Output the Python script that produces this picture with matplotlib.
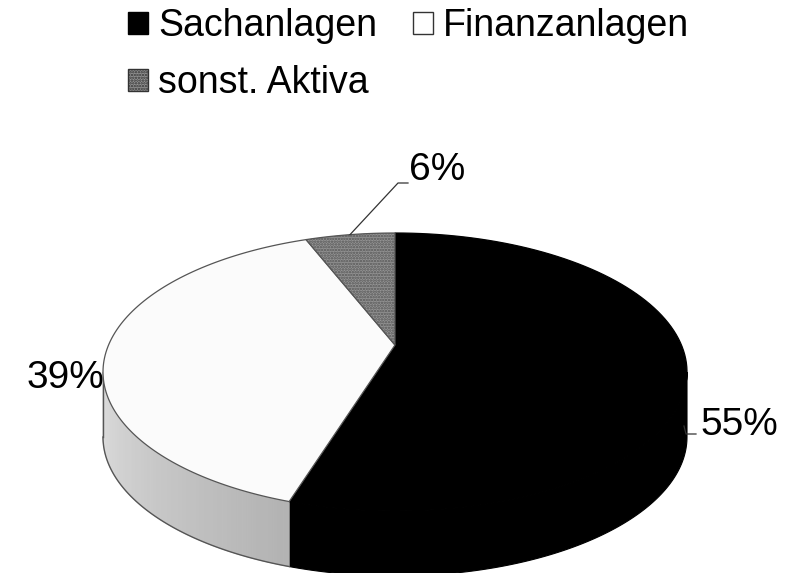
import numpy as np
import matplotlib
matplotlib.use('Agg')
import matplotlib.pyplot as plt
from matplotlib.patches import Polygon, Patch

# Daten
kategorien = ['Sachanlagen', 'Finanzanlagen', 'sonst. Aktiva']
anteile = [55, 39, 6]
beschriftungen = ['55%', '39%', '6%']

# Farben
farben_oben = ['#000000', '#fbfbfb', '#949494']
schraffur = [None, None, '......']
seite_hell = np.array([0.87, 0.87, 0.87])
seite_dunkel = np.array([0.69, 0.69, 0.69])
rand = '#555555'

plt.rcParams['font.family'] = ['Liberation Sans', 'DejaVu Sans']
plt.rcParams['hatch.linewidth'] = 1.2

fig = plt.figure(figsize=(7.94, 5.73), dpi=100)
ax = fig.add_axes([0, 0, 1, 1])
ax.set_xlim(0, 794)
ax.set_ylim(573, 0)
ax.axis('off')

# Geometrie der 3D-Torte (Pixel), Spitze liegt perspektivisch hoeher
cx, cy, rx, ry, tiefe = 395, 372, 292, 139, 65
spitze_y = 345
persp = 10.5  # Verzerrung: vorne breiter, hinten schmaler


def verzerrt(t):
    return t + persp * np.cos(np.radians(t))


def punkt(t, dy=0.0):
    t = np.radians(t)
    return cx + rx * np.cos(t), cy - ry * np.sin(t) + dy


def bogen(a, b, dy=0.0, n=120):
    ts = np.linspace(a, b, n)
    xs, ys = punkt(ts, dy)
    return list(zip(xs, ys))


# Winkel (im Uhrzeigersinn ab 90 Grad)
grenzen = []
start = 90.0
for v in anteile:
    ende = start - 360.0 * v / sum(anteile)
    grenzen.append((verzerrt(start), verzerrt(ende)))
    start = ende

# Seitenflaechen (nur vordere Haelfte sichtbar)
for i, (a, b) in enumerate(grenzen):
    for lo, hi in [(-180, 0), (-540, -360)]:
        s = max(b, lo)
        e = min(a, hi)
        if e <= s:
            continue
        if i == 0:
            oben = bogen(e, s)
            unten = bogen(s, e, tiefe)
            ax.add_patch(Polygon(oben + unten, closed=True, facecolor='black',
                                 edgecolor='black', lw=0.8, zorder=1))
        else:
            n_streifen = 60
            ts = np.linspace(s, e, n_streifen + 1)
            for k in range(n_streifen):
                f = (ts[k] - lo) / 72.0
                f = min(max(f, 0), 1)
                farbe = seite_hell + (seite_dunkel - seite_hell) * f
                poly = bogen(ts[k], ts[k + 1], 0, 6) + bogen(ts[k + 1], ts[k], tiefe, 6)
                ax.add_patch(Polygon(poly, closed=True, facecolor=farbe,
                                     edgecolor=farbe, lw=0.6, zorder=1))
            ax.plot(*zip(*bogen(s, e, tiefe)), color=rand, lw=1, zorder=2)
            x0, y0 = punkt(s)
            ax.plot([x0, x0], [y0, y0 + tiefe], color=rand, lw=1, zorder=2)

# Deckflaechen
for i, (a, b) in enumerate(grenzen):
    poly = [(cx, spitze_y)] + bogen(a, b)
    ax.add_patch(Polygon(poly, closed=True, facecolor=farben_oben[i],
                         edgecolor=rand if i > 0 else 'black', lw=0.9,
                         hatch=schraffur[i], zorder=3))

# Datenbeschriftungen mit Fuehrungslinien
ax.plot([684, 686, 696], [426, 434, 434], color='#333333', lw=0.9, zorder=4)
ax.text(700, 425, beschriftungen[0], fontsize=28, ha='left', va='center', zorder=5)
ax.text(104, 378, beschriftungen[1], fontsize=28, ha='right', va='center', zorder=5)
mx, my = punkt((grenzen[2][0] + grenzen[2][1]) / 2)
ax.plot([mx, 398, 408], [my, 183, 183], color='#333333', lw=0.9, zorder=4)
ax.text(409, 170, beschriftungen[2], fontsize=28, ha='left', va='center', zorder=5)

# Legende
griffe = [
    Patch(facecolor='black', edgecolor='black', label=kategorien[0]),
    Patch(facecolor=farben_oben[2], edgecolor='#333333', hatch='......', label=kategorien[2]),
    Patch(facecolor='white', edgecolor='#333333', label=kategorien[1]),
]
fig.legend(handles=griffe, loc='upper left', bbox_to_anchor=(128 / 794, 1 - 8 / 573),
           ncol=2, frameon=False, fontsize=27, handlelength=0.53, handleheight=0.53,
           handletextpad=0.28, columnspacing=0.95, labelspacing=0.56,
           borderpad=0, borderaxespad=0)

fig.savefig('out.png', dpi=100)
